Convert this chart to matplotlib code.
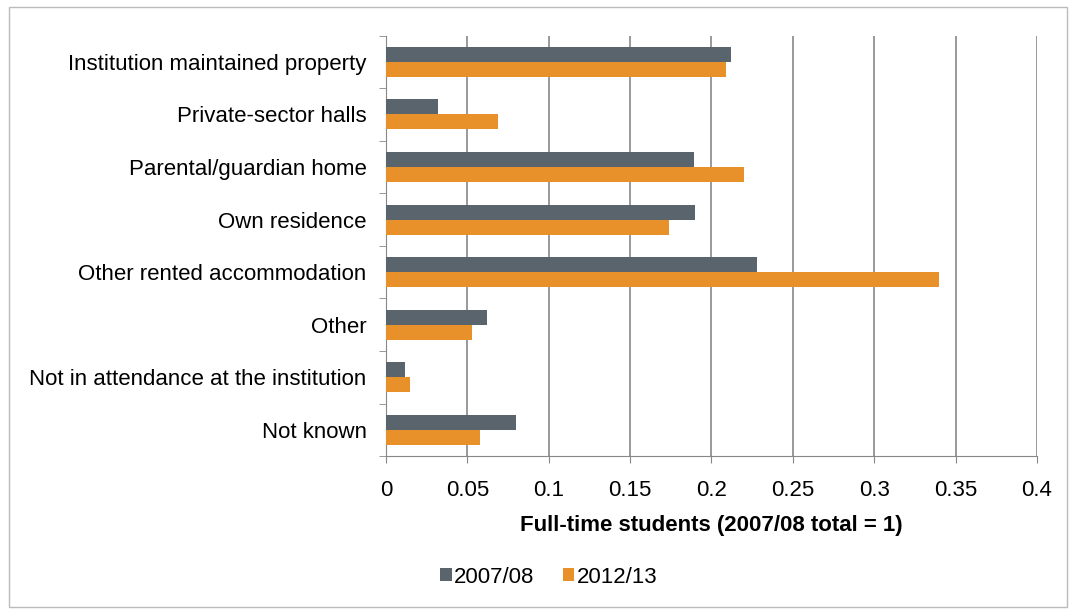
import numpy as np
import matplotlib.pyplot as plt
from matplotlib.patches import Rectangle

plt.rcParams['font.family'] = ['Liberation Sans', 'DejaVu Sans']

categories = [
    "Institution maintained property",
    "Private-sector halls",
    "Parental/guardian home",
    "Own residence",
    "Other rented accommodation",
    "Other",
    "Not in attendance at the institution",
    "Not known",
]
values_2007 = [0.212, 0.032, 0.189, 0.190, 0.228, 0.062, 0.012, 0.080]
values_2012 = [0.209, 0.069, 0.220, 0.174, 0.340, 0.053, 0.015, 0.058]
xticks = [0, 0.05, 0.1, 0.15, 0.2, 0.25, 0.3, 0.35, 0.4]
xtick_labels = ["0", "0.05", "0.1", "0.15", "0.2", "0.25", "0.3", "0.35", "0.4"]

gray = "#59646d"
orange = "#e8912a"
fs = 16

fig = plt.figure(figsize=(10.76, 6.14), dpi=100)
ax = fig.add_axes([0.3587, 0.257, 0.605, 0.685])

y = np.arange(len(categories))
h = 0.285
ax.barh(y - h / 2, values_2007, height=h, color=gray, label="2007/08", zorder=3)
ax.barh(y + h / 2, values_2012, height=h, color=orange, label="2012/13", zorder=3)

ax.set_ylim(len(categories) - 0.5, -0.5)
ax.set_xlim(0, 0.4)
ax.set_yticks(y)
ax.set_yticklabels(categories, fontsize=fs)
ax.set_yticks(np.arange(-0.5, len(categories), 1), minor=True)
ax.tick_params(axis="y", which="major", length=0, pad=14)
ax.tick_params(axis="y", which="minor", length=5, color="#888888")
ax.set_xticks(xticks)
ax.set_xticklabels(xtick_labels, fontsize=fs)
ax.tick_params(axis="x", length=5, color="#888888", pad=12)

ax.grid(axis="x", color="#888888", linewidth=1.2, zorder=0)
for side in ["top", "right"]:
    ax.spines[side].set_visible(False)
for side in ["left", "bottom"]:
    ax.spines[side].set_color("#888888")

ax.set_xlabel("Full-time students (2007/08 total = 1)", fontsize=fs,
              fontweight="bold", labelpad=10)

fig.legend(loc="center", bbox_to_anchor=(0.51, 0.06), ncol=2, frameon=False,
           fontsize=fs, handlelength=0.5, handleheight=0.5, handletextpad=0.1,
           columnspacing=1.3)

# outer frame
fig.patches.append(Rectangle((0.008, 0.012), 0.984, 0.976, transform=fig.transFigure,
                             fill=False, edgecolor="#bbbbbb", linewidth=1))

fig.savefig("out.png", dpi=100)
